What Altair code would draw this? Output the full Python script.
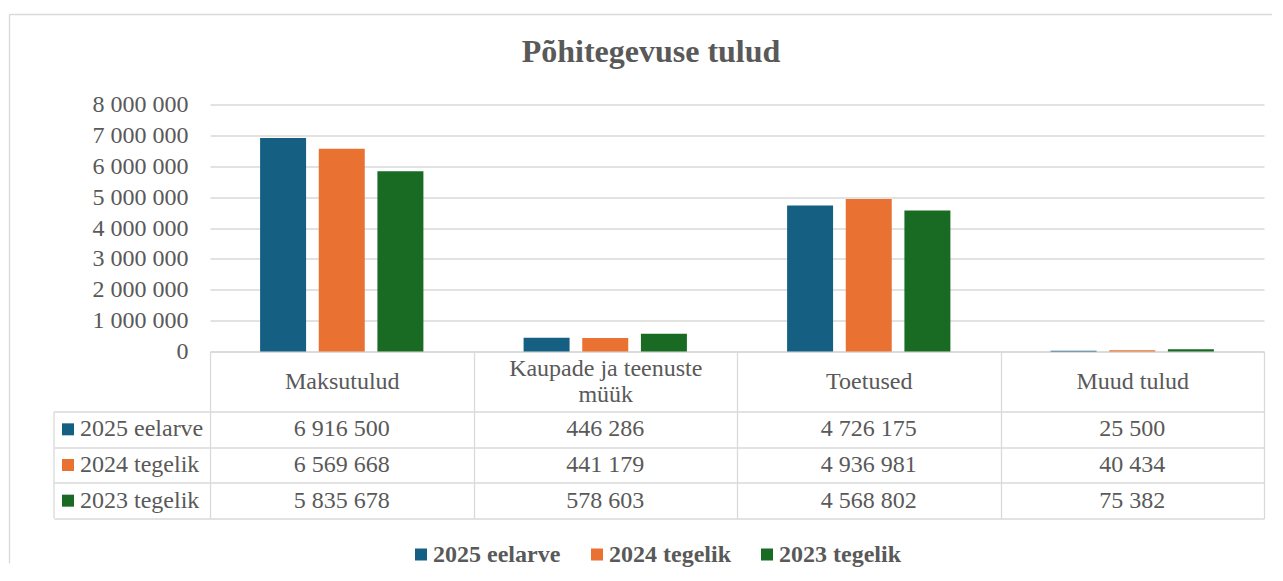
import altair as alt
import pandas as pd

categories = ["Maksutulud", "Kaupade ja teenuste müük", "Toetused", "Muud tulud"]
series = ["2025 eelarve", "2024 tegelik", "2023 tegelik"]
values_2025 = [6916500, 446286, 4726175, 25500]
values_2024 = [6569668, 441179, 4936981, 40434]
values_2023 = [5835678, 578603, 4568802, 75382]
colors = ["#156082", "#E97132", "#196B24"]
y_ticks = [0, 1000000, 2000000, 3000000, 4000000, 5000000, 6000000, 7000000, 8000000]

rows = []
for s, vals in zip(series, [values_2025, values_2024, values_2023]):
    for c, v in zip(categories, vals):
        rows.append({"kategooria": c, "seeria": s, "vaartus": v})
df = pd.DataFrame(rows)
leg_df = pd.DataFrame({"seeria": series})
one = pd.DataFrame({"a": [0]})

FONT = "Liberation Serif"
TXT = "#595959"
LINE = "#d9d9d9"
LW = 1.3

W = 1054
H_BAR = 247
H_TAB = 107
HEADER = 60

FMT = "replace(replace(format({v}, ','), ',', ' '), ',', ' ')"

color_scale = alt.Scale(domain=series, range=colors)

long_cat = "Kaupade ja teenuste müük"
wrap_expr = (f"datum.value == '{long_cat}' ? "
             "['Kaupade ja teenuste', 'müük'] : datum.value")
pad_cond = {"condition": {"test": f"datum.value == '{long_cat}'", "value": -43.5},
            "value": -30}

bars = alt.Chart(df).mark_bar().encode(
    x=alt.X("kategooria:N", sort=categories,
            scale=alt.Scale(domain=categories, paddingInner=0, paddingOuter=0),
            axis=alt.Axis(title=None, domainColor=LINE, domainWidth=LW,
                          ticks=True, tickBand="extent", tickSize=HEADER,
                          tickColor=LINE, tickWidth=LW, grid=False,
                          labelFont=FONT, labelFontSize=24, labelColor=TXT,
                          labelPadding=pad_cond, labelBaseline="middle",
                          labelLimit=400, labelLineHeight=26, labelAngle=0,
                          labelOverlap=False, labelExpr=wrap_expr)),
    y=alt.Y("vaartus:Q",
            scale=alt.Scale(domain=[0, 8000000], nice=False),
            axis=alt.Axis(title=None, values=y_ticks, domain=False, ticks=False,
                          grid=True, gridColor=LINE, gridWidth=LW,
                          labelFont=FONT, labelFontSize=24, labelColor=TXT,
                          labelPadding=22,
                          labelExpr=FMT.format(v="datum.value"))),
    xOffset=alt.XOffset("seeria:N", sort=series,
                        scale=alt.Scale(domain=series, paddingInner=0.216,
                                        paddingOuter=0.854)),
    color=alt.Color("seeria:N", scale=color_scale, sort=series,
                    legend=alt.Legend(title=None, orient="none",
                                      direction="horizontal",
                                      legendX=199, legendY=438,
                                      symbolType="square", symbolSize=144,
                                      symbolStrokeWidth=0,
                                      labelFont=FONT, labelFontSize=24,
                                      labelFontWeight="bold", labelColor=TXT,
                                      labelOffset=0, columnPadding=24)),
).properties(
    width=W, height=H_BAR,
    title=alt.TitleParams(text="Põhitegevuse tulud", font=FONT, fontSize=32,
                          fontWeight="bold", color=TXT, anchor="middle",
                          frame="group", dx=-86, offset=-1.3,
                          baseline="alphabetic"),
)

x_tab = alt.X("kategooria:N", sort=categories,
              scale=alt.Scale(domain=categories, paddingInner=0, paddingOuter=0),
              axis=alt.Axis(title=None, labels=False, ticks=False, domain=False,
                            grid=True, tickBand="extent", gridColor=LINE,
                            gridWidth=LW))
y_tab = alt.Y("seeria:N", sort=series,
              scale=alt.Scale(domain=series, paddingInner=0, paddingOuter=0),
              axis=alt.Axis(title=None, labels=False, domain=False, ticks=True,
                            tickSize=156, tickBand="extent", tickColor=LINE,
                            tickWidth=LW, grid=True, gridColor=LINE,
                            gridWidth=LW))

cells = alt.Chart(df).transform_calculate(
    tekst=FMT.format(v="datum.vaartus")
).mark_text(font=FONT, fontSize=24, color=TXT, baseline="middle").encode(
    x=x_tab, y=y_tab, text="tekst:N")

leg_sq = alt.Chart(leg_df).mark_point(shape="square", filled=True, size=144,
                                      opacity=1, strokeWidth=0).encode(
    x=alt.value(-142),
    y=alt.Y("seeria:N", sort=series),
    color=alt.Color("seeria:N", scale=color_scale, legend=None),
)
leg_txt = alt.Chart(leg_df).mark_text(align="left", font=FONT, fontSize=24,
                                      color=TXT, baseline="middle").encode(
    x=alt.value(-130),
    y=alt.Y("seeria:N", sort=series),
    text="seeria:N",
)
left_border = alt.Chart(one).mark_rule(color=LINE, strokeWidth=LW).encode(
    x=alt.value(-156), y=alt.value(0), y2=alt.value(H_TAB))
frame_left = alt.Chart(one).mark_rule(color=LINE, strokeWidth=LW).encode(
    x=alt.value(-200.5), y=alt.value(-397), y2=alt.value(152))
frame_top = alt.Chart(one).mark_rule(color=LINE, strokeWidth=LW).encode(
    x=alt.value(-200.5), x2=alt.value(1062), y=alt.value(-397))

table = alt.layer(cells, leg_sq, leg_txt, left_border, frame_left, frame_top
                  ).properties(width=W, height=H_TAB)

chart = alt.vconcat(bars, table, spacing=HEADER, bounds="flush").properties(
    padding={"left": 0, "top": 5.5, "right": 0, "bottom": 0}
).configure_view(stroke=None)

chart.save("out.html", embed_options={"renderer": "svg", "actions": False})
